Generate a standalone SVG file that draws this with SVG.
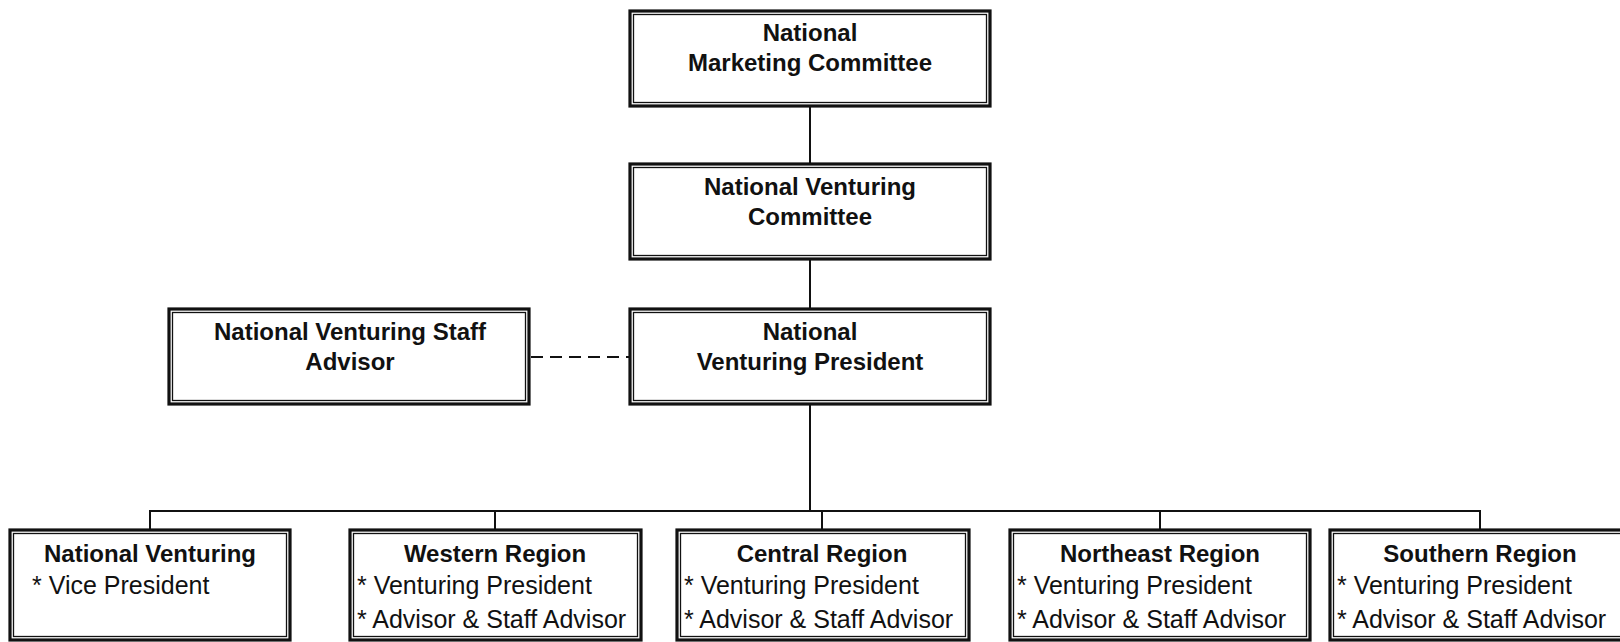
<svg xmlns="http://www.w3.org/2000/svg" width="1620" height="642" viewBox="0 0 1620 642">
<style>
.o{fill:#fff;stroke:#111;stroke-width:3.2}
.i{fill:none;stroke:#111;stroke-width:1.3}
.c{fill:none;stroke:#111;stroke-width:2}
.d{fill:none;stroke:#111;stroke-width:2;stroke-dasharray:12 7}
.b{font-family:"Liberation Sans",Arial,sans-serif;font-weight:bold;font-size:24px;fill:#111;text-anchor:middle}
.t{font-family:"Liberation Sans",Arial,sans-serif;font-size:25px;fill:#111}
</style>
<rect width="1620" height="642" fill="#fff"/>
<g id="connectors">
<line class="c" x1="810" y1="106" x2="810" y2="164"/>
<line class="c" x1="810" y1="259" x2="810" y2="309"/>
<line class="d" x1="531" y1="357" x2="629" y2="357"/>
<line class="c" x1="810" y1="404" x2="810" y2="511"/>
<polyline class="c" points="150,530 150,511 1480,511 1480,530"/>
<line class="c" x1="495" y1="511" x2="495" y2="530"/>
<line class="c" x1="822" y1="511" x2="822" y2="530"/>
<line class="c" x1="1160" y1="511" x2="1160" y2="530"/>
</g>
<g id="marketing">
<rect class="o" x="630" y="11" width="360" height="95"/>
<rect class="i" x="633.5" y="14.5" width="353" height="88"/>
<text class="b" x="810" y="41">National</text>
<text class="b" x="810" y="71">Marketing Committee</text>
</g>
<g id="committee">
<rect class="o" x="630" y="164" width="360" height="95"/>
<rect class="i" x="633.5" y="167.5" width="353" height="88"/>
<text class="b" x="810" y="195">National Venturing</text>
<text class="b" x="810" y="225">Committee</text>
</g>
<g id="staff">
<rect class="o" x="169" y="309" width="360" height="95"/>
<rect class="i" x="172.5" y="312.5" width="353" height="88"/>
<text class="b" x="350" y="340">National Venturing Staff</text>
<text class="b" x="350" y="370">Advisor</text>
</g>
<g id="president">
<rect class="o" x="630" y="309" width="360" height="95"/>
<rect class="i" x="633.5" y="312.5" width="353" height="88"/>
<text class="b" x="810" y="340">National</text>
<text class="b" x="810" y="370">Venturing President</text>
</g>
<g id="nv">
<rect class="o" x="10" y="530" width="280" height="110"/>
<rect class="i" x="13.5" y="533.5" width="273" height="103"/>
<text class="b" x="150" y="562">National Venturing</text>
<text class="t" x="32" y="594">* Vice President</text>
</g>
<g id="western">
<rect class="o" x="350" y="530" width="291" height="110"/>
<rect class="i" x="353.5" y="533.5" width="284" height="103"/>
<text class="b" x="495" y="562">Western Region</text>
<text class="t" x="357" y="594">* Venturing President</text>
<text class="t" x="357" y="628">* Advisor &amp; Staff Advisor</text>
</g>
<g id="central">
<rect class="o" x="677" y="530" width="292" height="110"/>
<rect class="i" x="680.5" y="533.5" width="285" height="103"/>
<text class="b" x="822" y="562">Central Region</text>
<text class="t" x="684" y="594">* Venturing President</text>
<text class="t" x="684" y="628">* Advisor &amp; Staff Advisor</text>
</g>
<g id="northeast">
<rect class="o" x="1010" y="530" width="300" height="110"/>
<rect class="i" x="1013.5" y="533.5" width="293" height="103"/>
<text class="b" x="1160" y="562">Northeast Region</text>
<text class="t" x="1017" y="594">* Venturing President</text>
<text class="t" x="1017" y="628">* Advisor &amp; Staff Advisor</text>
</g>
<g id="southern">
<rect class="o" x="1330" y="530" width="300" height="110"/>
<rect class="i" x="1333.5" y="533.5" width="293" height="103"/>
<text class="b" x="1480" y="562">Southern Region</text>
<text class="t" x="1337" y="594">* Venturing President</text>
<text class="t" x="1337" y="628">* Advisor &amp; Staff Advisor</text>
</g>
</svg>
